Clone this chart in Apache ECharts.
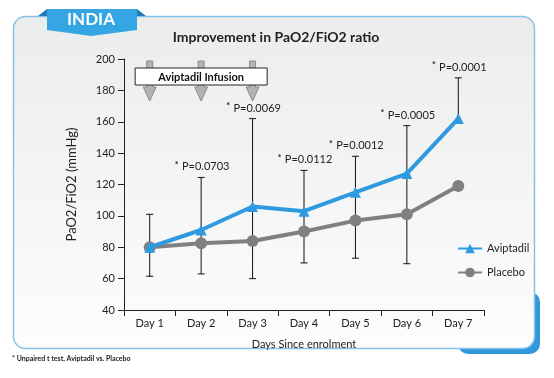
<!DOCTYPE html>
<html>
<head>
<meta charset="utf-8">
<script src="https://cdn.jsdelivr.net/npm/echarts@6/dist/echarts.min.js"></script>
<style>html,body{margin:0;padding:0;background:#fff;}#c{width:554px;height:378px;}</style>
</head>
<body>
<div id="c"></div>
<script>
const days = ['Day 1', 'Day 2', 'Day 3', 'Day 4', 'Day 5', 'Day 6', 'Day 7'];
const aviptadil = [80, 91, 106, 103, 115, 127, 162];
const placebo = [80, 82.5, 84, 90, 97, 101, 119];
const errUpper = [101, 124.5, 162, 129, 138, 157.5, 188];
const errLower = [61.5, 63, 60, 70, 73, 69.5, null];
const pValues = [null, '0.0703', '0.0069', '0.0112', '0.0012', '0.0005', '0.0001'];
const infusionDays = [0, 1, 2];
const yTicks = { min: 40, max: 200, interval: 20 };

const FONT = 'Lato, "Open Sans", sans-serif';
const chart = echarts.init(document.getElementById('c'), null, { renderer: 'canvas' });

const errData = days.map((d, i) => [i, errUpper[i], errLower[i] == null ? NaN : errLower[i], aviptadil[i]]);

const option = {
  animation: false,
  textStyle: { fontFamily: FONT },
  grid: { left: 124, right: 70, top: 59, bottom: 68 },
  graphic: [
    { type: 'rect', z: -20, shape: { x: 458, y: 292, width: 82, height: 62, r: 10 }, style: { fill: '#2f97da' } },
    { type: 'rect', z: -19, shape: { x: 13.5, y: 16.5, width: 521, height: 332, r: 12 },
      style: { fill: { type: 'linear', x: 0, y: 0, x2: 0, y2: 1, colorStops: [{ offset: 0, color: '#ebecec' }, { offset: 1, color: '#fdfdfd' }] },
               stroke: '#86c1ea', lineWidth: 1.5 } },
    { type: 'polygon', z: -18, shape: { points: [[38, 16], [47, 9], [47, 16]] }, style: { fill: '#2079b8' } },
    { type: 'polygon', z: -18, shape: { points: [[137, 9], [146, 16], [137, 16]] }, style: { fill: '#2079b8' } },
    { type: 'polygon', z: -17, shape: { points: [[47, 9], [137, 9], [137, 30], [91, 36], [47, 30]] }, style: { fill: '#35a6e3' } },
    { type: 'text', z: 10, style: { text: 'INDIA', x: 91, y: 20, align: 'center', verticalAlign: 'middle', fill: '#ffffff', font: 'bold 17px ' + FONT } },
    { type: 'text', z: 10, style: { text: 'Improvement in PaO2/FiO2 ratio', x: 276, y: 37, align: 'center', verticalAlign: 'middle', fill: '#222', font: 'bold 14px ' + FONT } },
    { type: 'text', z: 10, style: { text: '* Unpaired t test, Aviptadil vs. Placebo', x: 12, y: 359, align: 'left', verticalAlign: 'middle', fill: '#222', font: 'bold 7px ' + FONT } }
  ],
  legend: {
    orient: 'vertical', left: 452, top: 238, itemGap: 13, itemWidth: 24, itemHeight: 12,
    textStyle: { fontSize: 11, color: '#222', fontFamily: FONT },
    data: ['Aviptadil', 'Placebo']
  },
  xAxis: {
    type: 'category', data: days, boundaryGap: true,
    name: 'Days Since enrolment', nameLocation: 'middle', nameGap: 29,
    nameTextStyle: { fontSize: 11, color: '#222', fontFamily: FONT },
    axisLine: { lineStyle: { color: '#222', width: 1 } },
    axisTick: { show: true, inside: false, length: 6, lineStyle: { color: '#222' } },
    axisLabel: { fontSize: 11, color: '#222', margin: 8, fontFamily: FONT },
    splitLine: { show: false }
  },
  yAxis: {
    type: 'value', min: yTicks.min, max: yTicks.max, interval: yTicks.interval,
    name: 'PaO2/FiO2 (mmHg)', nameLocation: 'middle', nameGap: 46, nameRotate: 90,
    nameTextStyle: { fontSize: 13, color: '#222', fontFamily: FONT },
    axisLine: { show: true, lineStyle: { color: '#222', width: 1 } },
    axisTick: { show: true, length: 6, lineStyle: { color: '#222' } },
    axisLabel: { fontSize: 11, color: '#222', margin: 9, fontFamily: FONT },
    splitLine: { show: false }
  },
  series: [
    {
      name: 'errorbars', type: 'custom', z: 1, silent: true,
      data: errData,
      encode: { x: 0, y: [1, 2] },
      renderItem: function (params, api) {
        const i = api.value(0);
        const up = api.coord([i, api.value(1)]);
        const lowV = api.value(2);
        const hasLow = !isNaN(lowV);
        const low = api.coord([i, hasLow ? lowV : api.value(3)]);
        const hw = 3.5;
        const children = [
          { type: 'line', shape: { x1: up[0], y1: up[1], x2: low[0], y2: low[1] }, style: { stroke: '#111', lineWidth: 1 } },
          { type: 'line', shape: { x1: up[0] - hw, y1: up[1], x2: up[0] + hw, y2: up[1] }, style: { stroke: '#111', lineWidth: 1 } }
        ];
        if (hasLow) {
          children.push({ type: 'line', shape: { x1: low[0] - hw, y1: low[1], x2: low[0] + hw, y2: low[1] }, style: { stroke: '#111', lineWidth: 1 } });
        }
        const p = pValues[params.dataIndex];
        if (p) {
          children.push({
            type: 'text',
            style: {
              text: '{a|*} {b|P=' + p + '}',
              x: up[0] + 1, y: up[1] - 4, align: 'center', verticalAlign: 'bottom',
              rich: {
                a: { fontSize: 9, fill: '#222', verticalAlign: 'top', padding: [0, 0, 4, 0], fontFamily: FONT, fontWeight: 'bold' },
                b: { fontSize: 11, fill: '#222', fontFamily: FONT }
              }
            }
          });
        }
        return { type: 'group', children: children };
      }
    },
    {
      name: 'infusion', type: 'custom', z: 1, silent: true,
      data: infusionDays.map(i => [i, yTicks.max]),
      renderItem: function (params, api) {
        const c = api.coord([api.value(0), api.value(1)]);
        const x = c[0], y0 = c[1] + 2;
        const sw = 3, hw = 6.5, hy = y0 + 26, tip = y0 + 40;
        return {
          type: 'polygon',
          shape: { points: [[x - sw, y0], [x + sw, y0], [x + sw, hy], [x + hw, hy], [x, tip], [x - hw, hy], [x - sw, hy]] },
          style: { fill: '#b3b3b3', stroke: '#8c8c8c', lineWidth: 1 }
        };
      }
    },
    {
      name: 'infusionBox', type: 'custom', z: 2, silent: true,
      data: [[infusionDays[1], yTicks.max]],
      renderItem: function (params, api) {
        const c = api.coord([api.value(0), api.value(1)]);
        const x = c[0], y = c[1] + 9;
        return {
          type: 'group',
          children: [
            { type: 'rect', shape: { x: x - 66, y: y, width: 132, height: 17 }, style: { fill: '#fff', stroke: '#222', lineWidth: 1 } },
            { type: 'text', style: { text: 'Aviptadil Infusion', x: x, y: y + 9, align: 'center', verticalAlign: 'middle', fill: '#111', font: 'bold 11px ' + FONT } }
          ]
        };
      }
    },
    {
      name: 'Placebo', type: 'line', z: 3, data: placebo,
      symbol: 'circle', symbolSize: 12,
      lineStyle: { color: '#808080', width: 4 },
      itemStyle: { color: '#808080' }
    },
    {
      name: 'Aviptadil', type: 'line', z: 4, data: aviptadil,
      symbol: 'triangle', symbolSize: 11,
      lineStyle: { color: '#2f9ae0', width: 4 },
      itemStyle: { color: '#2f9ae0' }
    }
  ]
};
chart.setOption(option);
</script>
</body>
</html>
